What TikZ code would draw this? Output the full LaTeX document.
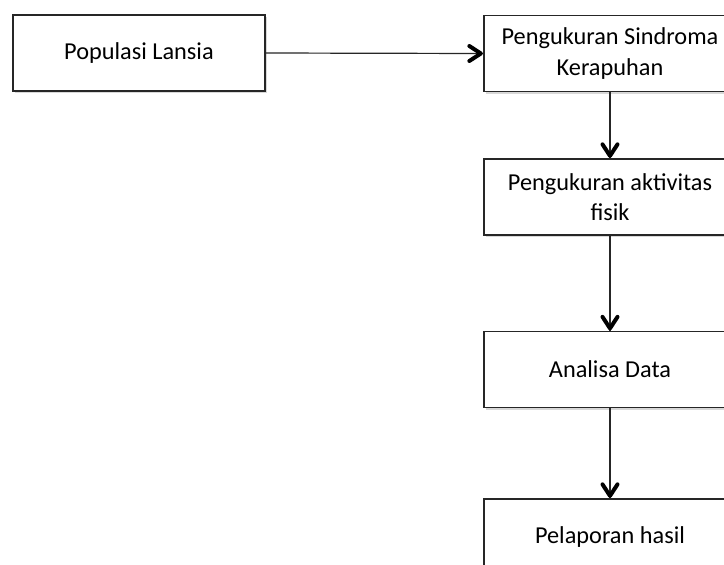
\documentclass[tikz,border=0pt]{standalone}
\usepackage{fontspec}
\setmainfont{Carlito}
\usetikzlibrary{shadows}
\begin{document}
\begin{tikzpicture}[x=1pt,y=-1pt,
  flowbox/.style={draw=black!85, line width=1.3pt, fill=white, rectangle,
    minimum width=252pt, minimum height=76pt, inner sep=0pt, align=center,
    font=\fontsize{24.3}{30.5}\selectfont,
    drop shadow={shadow xshift=1.5pt, shadow yshift=-2pt, opacity=0.25, fill=black!60}},
  flowline/.style={draw=black!85, line width=1.2pt},
  chevron/.style={draw=black, line width=4pt, line cap=round, line join=round}]
\useasboundingbox (0,0) rectangle (724,565);
\clip (0,0) rectangle (724,565);
\fill[white] (0,0) rectangle (724,565);
\node[flowbox] (pop) at (139,53) {Populasi Lansia};
\node[flowbox] (sind) at (610,53.5) {Pengukuran Sindroma\\Kerapuhan};
\node[flowbox] (akt) at (610,197) {Pengukuran aktivitas\\fisik};
\node[flowbox] (ana) at (610,369.5) {Analisa Data};
\node[flowbox] (lap) at (610,537) {Pelaporan hasil};
\draw[flowline] (pop.east) -- (sind.west);
\draw[flowline] (sind.south) -- (akt.north);
\draw[flowline] (akt.south) -- (ana.north);
\draw[flowline] (ana.south) -- (lap.north);
\draw[chevron] ([shift={(-14,-7.5)}]sind.west) -- ([shift={(-2.5,0)}]sind.west) -- ([shift={(-14,7.5)}]sind.west);
\draw[chevron] ([shift={(-7.5,-14)}]akt.north) -- ([shift={(0,-2.5)}]akt.north) -- ([shift={(7.5,-14)}]akt.north);
\draw[chevron] ([shift={(-7.5,-14)}]ana.north) -- ([shift={(0,-2.5)}]ana.north) -- ([shift={(7.5,-14)}]ana.north);
\draw[chevron] ([shift={(-7.5,-14)}]lap.north) -- ([shift={(0,-2.5)}]lap.north) -- ([shift={(7.5,-14)}]lap.north);
\end{tikzpicture}
\end{document}
